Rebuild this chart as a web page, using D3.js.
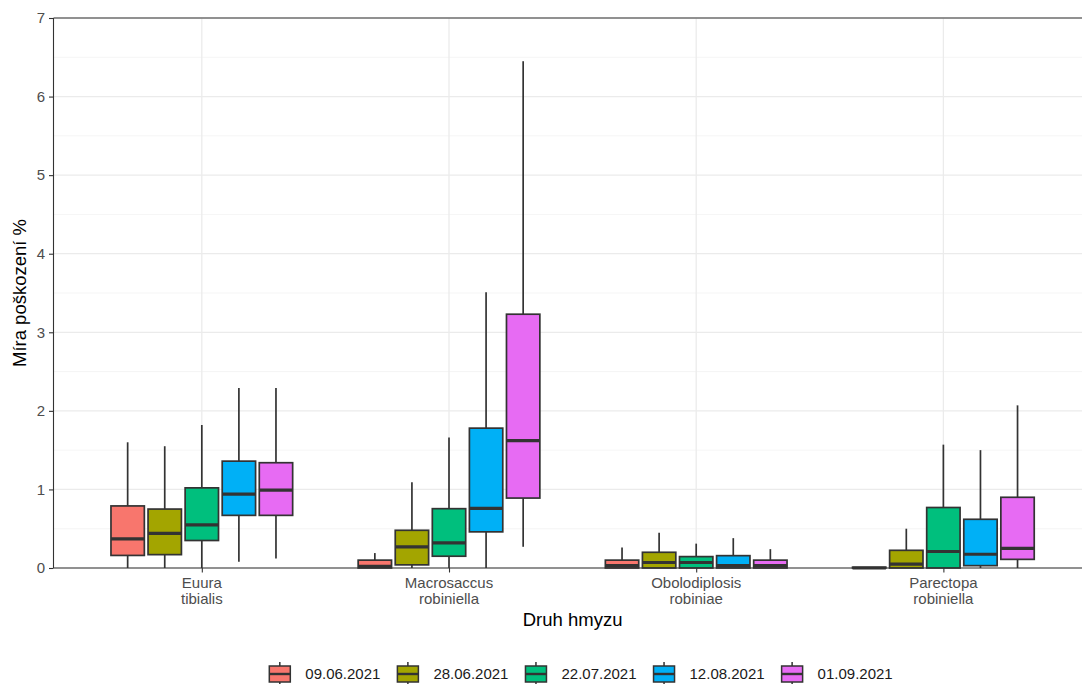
<!DOCTYPE html>
<html>
<head>
<meta charset="utf-8">
<script src="https://cdn.jsdelivr.net/npm/d3@7"></script>
<style>
html,body{margin:0;padding:0;background:#fff;}
svg{display:block;font-family:"Liberation Sans",Arial,sans-serif;}
</style>
</head>
<body>
<svg id="chart" width="1082" height="684"></svg>
<script>
// ---- data ----
const categories = ["Euura tibialis", "Macrosaccus robiniella", "Obolodiplosis robiniae", "Parectopa robiniella"];
const dates = ["09.06.2021", "28.06.2021", "22.07.2021", "12.08.2021", "01.09.2021"];
const colors = ["#F8766D", "#A3A500", "#00BF7D", "#00B0F6", "#E76BF3"];
// per category, per date: [lowerWhisker, q1, median, q3, upperWhisker]
const euura = [
  [0.00, 0.16, 0.37, 0.79, 1.60],
  [0.00, 0.17, 0.44, 0.75, 1.55],
  [0.00, 0.35, 0.55, 1.02, 1.82],
  [0.08, 0.67, 0.94, 1.36, 2.29],
  [0.12, 0.67, 0.99, 1.34, 2.29]
];
const macrosaccus = [
  [0.00, 0.00, 0.02, 0.10, 0.19],
  [0.00, 0.04, 0.27, 0.48, 1.09],
  [0.00, 0.15, 0.32, 0.755, 1.66],
  [0.00, 0.46, 0.76, 1.78, 3.51],
  [0.27, 0.89, 1.62, 3.23, 6.45]
];
const obolodiplosis = [
  [0.00, 0.00, 0.03, 0.10, 0.26],
  [0.00, 0.00, 0.07, 0.20, 0.45],
  [0.00, 0.00, 0.07, 0.145, 0.31],
  [0.00, 0.00, 0.03, 0.157, 0.38],
  [0.00, 0.00, 0.03, 0.10, 0.24]
];
const parectopa = [
  [0.00, 0.00, 0.00, 0.01, 0.01],
  [0.00, 0.00, 0.05, 0.225, 0.50],
  [0.00, 0.00, 0.21, 0.77, 1.57],
  [0.00, 0.03, 0.175, 0.62, 1.50],
  [0.00, 0.11, 0.25, 0.90, 2.07]
];
const seriesByCategory = [euura, macrosaccus, obolodiplosis, parectopa];
const yTicks = [0, 1, 2, 3, 4, 5, 6, 7];
const yMinor = [0.5, 1.5, 2.5, 3.5, 4.5, 5.5, 6.5];
const yTitle = "Míra poškození %";
const xTitle = "Druh hmyzu";

// ---- layout ----
const svg = d3.select("#chart");
const panelLeft = 53.5, panelTop = 18, panelBottom = 568, panelRight = 1091.7;
const x = d3.scaleLinear().domain([0.4, 4.6]).range([panelLeft, panelRight]);
const y = d3.scaleLinear().domain([0, 7]).range([panelBottom, panelTop]);
const unit = x(2) - x(1);
const dodgeW = 0.75 * unit;
const slot = dodgeW / dates.length;
const boxW = slot * 0.9;
const axisFont = "15px", titleFont = "18.5px";

const g = svg.append("g");

// grid
g.selectAll(".minor").data(yMinor).enter().append("line")
  .attr("x1", panelLeft).attr("x2", 1082)
  .attr("y1", d => y(d)).attr("y2", d => y(d))
  .attr("stroke", "#f2f2f2").attr("stroke-width", 0.8);
g.selectAll(".major").data(yTicks).enter().append("line")
  .attr("x1", panelLeft).attr("x2", 1082)
  .attr("y1", d => y(d)).attr("y2", d => y(d))
  .attr("stroke", "#ebebeb").attr("stroke-width", 1.3);
g.selectAll(".vmajor").data(categories).enter().append("line")
  .attr("x1", (d, i) => x(i + 1)).attr("x2", (d, i) => x(i + 1))
  .attr("y1", panelTop).attr("y2", panelBottom)
  .attr("stroke", "#ebebeb").attr("stroke-width", 1.3);

// boxes
categories.forEach((cat, ci) => {
  const cx = x(ci + 1);
  seriesByCategory[ci].forEach((s, di) => {
    const bx = cx - dodgeW / 2 + slot * di + slot / 2;
    const [lo, q1, med, q3, hi] = s;
    const bg = g.append("g");
    bg.append("line").attr("x1", bx).attr("x2", bx).attr("y1", y(q3)).attr("y2", y(hi))
      .attr("stroke", "#333333").attr("stroke-width", 1.7);
    bg.append("line").attr("x1", bx).attr("x2", bx).attr("y1", y(q1)).attr("y2", y(lo))
      .attr("stroke", "#333333").attr("stroke-width", 1.7);
    bg.append("rect").attr("x", bx - boxW / 2).attr("width", boxW)
      .attr("y", y(q3)).attr("height", Math.max(0, y(q1) - y(q3)))
      .attr("fill", colors[di]).attr("stroke", "#333333").attr("stroke-width", 1.7);
    bg.append("line").attr("x1", bx - boxW / 2).attr("x2", bx + boxW / 2)
      .attr("y1", y(med)).attr("y2", y(med))
      .attr("stroke", "#333333").attr("stroke-width", 3.2);
  });
});

// panel border
g.append("line").attr("x1", panelLeft).attr("x2", 1082).attr("y1", panelTop).attr("y2", panelTop)
  .attr("stroke", "#333333").attr("stroke-width", 1.1);
g.append("line").attr("x1", panelLeft).attr("x2", 1082).attr("y1", panelBottom).attr("y2", panelBottom)
  .attr("stroke", "#333333").attr("stroke-width", 1.1);
g.append("line").attr("x1", panelLeft).attr("x2", panelLeft).attr("y1", panelTop).attr("y2", panelBottom)
  .attr("stroke", "#333333").attr("stroke-width", 1.1);

// y axis
const yAxis = d3.axisLeft(y).tickValues(yTicks).tickSize(4.5).tickPadding(4).tickFormat(d3.format("d"));
const ya = svg.append("g").attr("transform", `translate(${panelLeft},0)`).call(yAxis);
ya.select(".domain").remove();
ya.selectAll(".tick line").attr("stroke", "#333333").attr("stroke-width", 1.1);
ya.selectAll(".tick text").attr("fill", "#4d4d4d").style("font-size", axisFont)
  .style("font-family", "Liberation Sans, Arial, sans-serif");

// x axis
const xAxis = d3.axisBottom(x).tickValues(categories.map((d, i) => i + 1)).tickSize(4.5).tickFormat("");
const xa = svg.append("g").attr("transform", `translate(0,${panelBottom})`).call(xAxis);
xa.select(".domain").remove();
xa.selectAll(".tick line").attr("stroke", "#333333").attr("stroke-width", 1.1);
categories.forEach((cat, i) => {
  const words = cat.split(" ");
  const t = svg.append("text").attr("x", x(i + 1)).attr("y", 588)
    .attr("text-anchor", "middle").attr("fill", "#4d4d4d").style("font-size", axisFont);
  words.forEach((w, wi) => {
    t.append("tspan").attr("x", x(i + 1)).attr("dy", wi === 0 ? 0 : 16).text(w);
  });
});

// titles
svg.append("text").attr("x", (panelLeft + panelRight) / 2).attr("y", 626)
  .attr("text-anchor", "middle").attr("fill", "#000").style("font-size", titleFont).text(xTitle);
svg.append("text").attr("transform", `translate(26,${(panelTop + panelBottom) / 2}) rotate(-90)`)
  .attr("text-anchor", "middle").attr("fill", "#000").style("font-size", titleFont).text(yTitle);

// legend
const legend = svg.append("g");
const keyW = 21, keyH = 16, keyGap = 15, itemGap = 17;
const tmp = svg.append("text").style("font-size", axisFont).text(dates[0]);
const textW = tmp.node().getComputedTextLength();
tmp.remove();
const itemW = keyW + keyGap + textW;
const totalW = dates.length * itemW + (dates.length - 1) * itemGap;
let lx = 581 - totalW / 2;
const ly = 674;
dates.forEach((d, i) => {
  const kx = lx + keyW / 2;
  legend.append("line").attr("x1", kx).attr("x2", kx).attr("y1", ly - 12).attr("y2", ly + 12)
    .attr("stroke", "#333333").attr("stroke-width", 1.5);
  legend.append("rect").attr("x", lx).attr("y", ly - keyH / 2).attr("width", keyW).attr("height", keyH)
    .attr("fill", colors[i]).attr("stroke", "#333333").attr("stroke-width", 1.5);
  legend.append("line").attr("x1", lx).attr("x2", lx + keyW).attr("y1", ly).attr("y2", ly)
    .attr("stroke", "#333333").attr("stroke-width", 2.4);
  legend.append("text").attr("x", lx + keyW + keyGap).attr("y", ly).attr("dy", "0.35em")
    .attr("fill", "#1a1a1a").style("font-size", axisFont).text(d);
  lx += itemW + itemGap;
});
</script>
</body>
</html>
